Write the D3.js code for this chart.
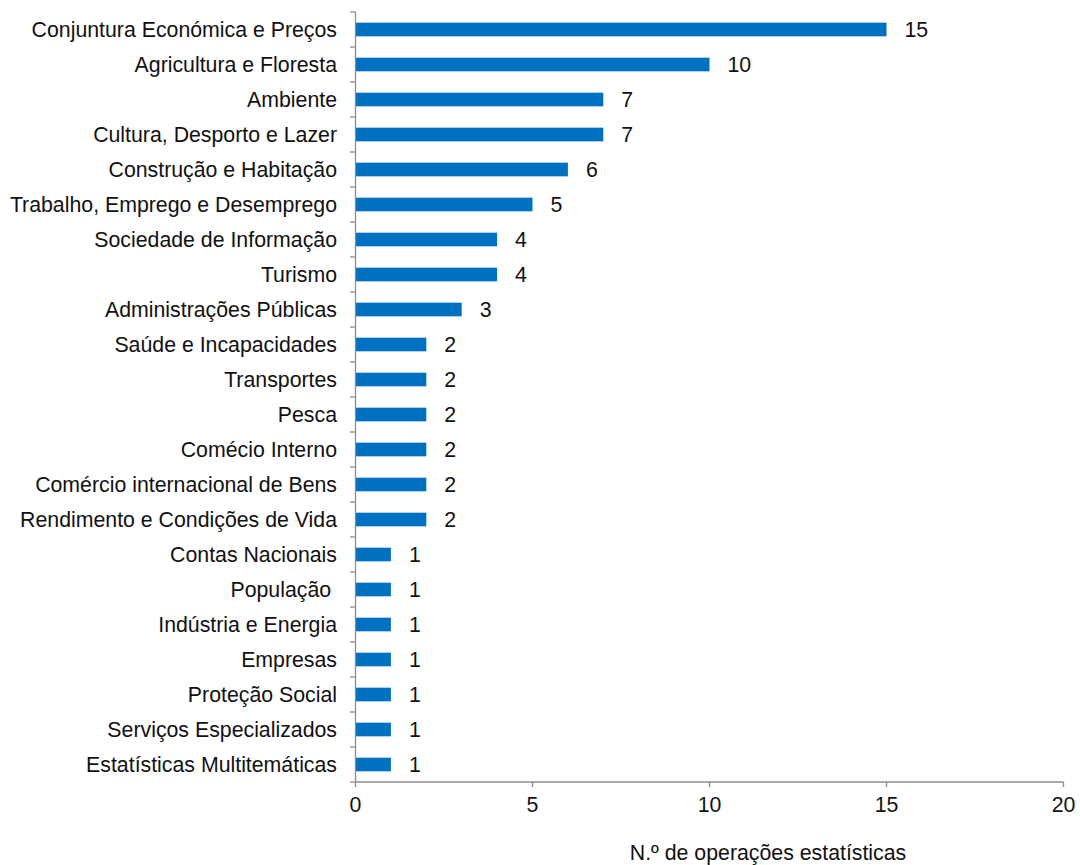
<!DOCTYPE html>
<html><head><meta charset="utf-8">
<script src="https://cdn.jsdelivr.net/npm/d3@7"></script>
<style>body{margin:0;background:#fff}svg{display:block}text{font-family:"Liberation Sans",Arial,sans-serif;white-space:pre}</style>
</head><body>
<script>
const categories = ["Conjuntura Económica e Preços","Agricultura e Floresta","Ambiente","Cultura, Desporto e Lazer","Construção e Habitação","Trabalho, Emprego e Desemprego","Sociedade de Informação","Turismo","Administrações Públicas","Saúde e Incapacidades","Transportes","Pesca","Comécio Interno","Comércio internacional de Bens","Rendimento e Condições de Vida","Contas Nacionais","População ","Indústria e Energia","Empresas","Proteção Social","Serviços Especializados","Estatísticas Multitemáticas"];
const values = [15,10,7,7,6,5,4,4,3,2,2,2,2,2,2,1,1,1,1,1,1,1];
const xTicks = [0,5,10,15,20];
const xTitle = "N.º de operações estatísticas";

const W=1080,H=865;
const svg=d3.select("body").append("svg").attr("width",W).attr("height",H);
const x=d3.scaleLinear().domain([0,20]).range([355.5,1063.5]);
const y=d3.scaleBand().domain(categories).range([12,782]).paddingInner(0.61).paddingOuter(0.305);
const fs=21.3;
const axisColor="#8c8c8c";
const txt="#111";

svg.selectAll("rect.bar").data(categories).join("rect").attr("class","bar")
  .attr("x",x(0)).attr("y",d=>y(d)).attr("width",(d,i)=>x(values[i])-x(0)).attr("height",y.bandwidth())
  .attr("fill","#0070C0");

const ya=svg.append("g");
ya.append("line").attr("x1",355.5).attr("x2",355.5).attr("y1",12).attr("y2",782).attr("stroke",axisColor).attr("stroke-width",1.3);
const step=y.step();
d3.range(categories.length+1).forEach(i=>{
  const yy=12+i*step;
  ya.append("line").attr("x1",350).attr("x2",355.5).attr("y1",yy).attr("y2",yy).attr("stroke",axisColor).attr("stroke-width",1.3);
});
svg.selectAll("text.cat").data(categories).join("text").attr("class","cat")
  .attr("x",337).attr("y",d=>y(d)+y.bandwidth()/2).attr("dy","0.35em")
  .attr("text-anchor","end").attr("font-size",fs).attr("fill",txt).text(d=>d);

svg.selectAll("text.val").data(categories).join("text").attr("class","val")
  .attr("x",(d,i)=>x(values[i])+18).attr("y",d=>y(d)+y.bandwidth()/2).attr("dy","0.35em")
  .attr("font-size",fs).attr("fill",txt).text((d,i)=>values[i]);

const xa=svg.append("g");
xa.append("line").attr("x1",355.5).attr("x2",x(20)).attr("y1",782).attr("y2",782).attr("stroke",axisColor).attr("stroke-width",1.3);
xTicks.forEach(t=>{
  xa.append("line").attr("x1",x(t)).attr("x2",x(t)).attr("y1",782).attr("y2",787).attr("stroke",axisColor).attr("stroke-width",1.3);
  xa.append("text").attr("x",x(t)).attr("y",805).attr("dy","0.35em").attr("text-anchor","middle").attr("font-size",fs).attr("fill",txt).text(t);
});
svg.append("text").attr("x",768).attr("y",860).attr("text-anchor","middle").attr("font-size",fs).attr("fill",txt).text(xTitle);
</script>
</body></html>
